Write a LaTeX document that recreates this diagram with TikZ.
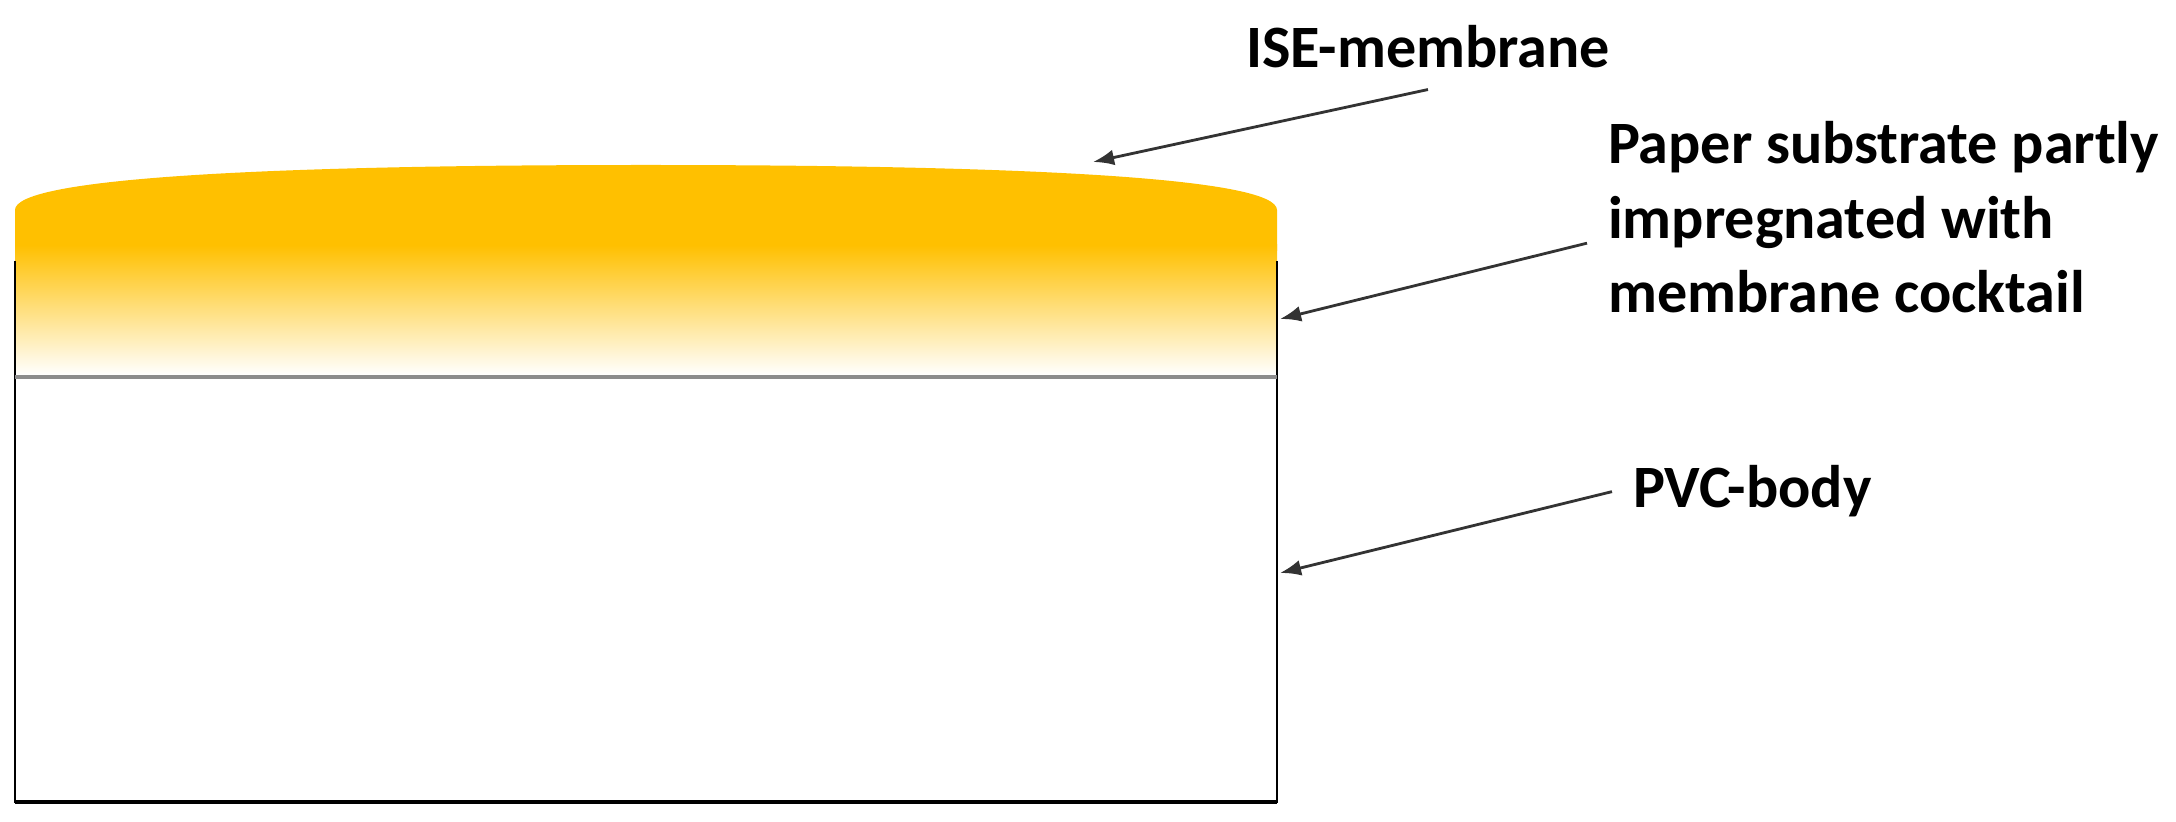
\documentclass[tikz,border=0pt]{standalone}
\usepackage{fontspec}
\setmainfont{Carlito}
\usetikzlibrary{arrows.meta}
\definecolor{cocktail}{HTML}{FFC000}
\tikzset{
  labeltext/.style={font=\bfseries\fontsize{17.1}{21.3}\selectfont,
    inner sep=0pt, outer sep=6pt, align=left},
  pointer/.style={-{Latex[length=6pt,width=4.5pt]}, line width=0.8pt, draw=black!80}
}

\begin{document}
\begin{tikzpicture}[x=0.01cm,y=0.01cm]
\useasboundingbox (0,0) rectangle (2176,821);

%membrane and the soaked paper
\fill[cocktail] (15,570) -- (15,611) .. controls (15,642) and (250,656) .. (646,656)
  .. controls (1042,656) and (1277,642) .. (1277,611) -- (1277,570) -- cycle;
\shade[top color=cocktail, bottom color=white] (15,446) rectangle (1277,576);

%pvc body
\draw[line width=0.6pt] (15,560) -- (15,19) -- (1277,19) -- (1277,560);
\draw[line width=0.9pt] (15,19) -- (1277,19);
\draw[line width=1.4pt, black!45] (15,444) -- (1277,444);

\path (1225,753) node (ise) [labeltext, anchor=base west] {ISE-membrane}
      (1587,508) node (paper) [labeltext, anchor=base west] {Paper substrate partly\\impregnated with\\membrane cocktail}
      (1612,313) node (pvc) [labeltext, anchor=base west] {PVC-body};

\path (1093,659) coordinate (isetip)
      (1280,502) coordinate (papertip)
      (1280,248) coordinate (pvctip);

% arrows to the layers
\draw[pointer] (ise.south) -- (isetip);
\draw[pointer] (paper.185) -- (papertip);
\draw[pointer] (pvc.west) -- (pvctip);

\end{tikzpicture}
\end{document}
